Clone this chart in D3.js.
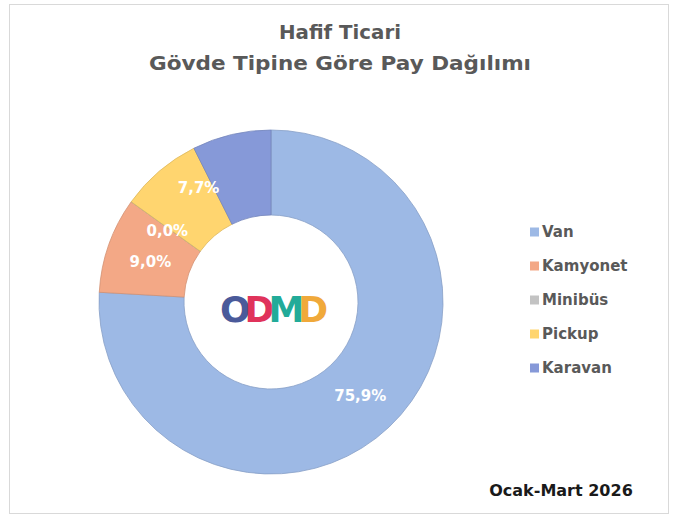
<!DOCTYPE html>
<html>
<head>
<meta charset="utf-8">
<script src="https://cdn.jsdelivr.net/npm/d3@7"></script>
<style>
  body { margin: 0; background: #fff; }
  text { font-family: "DejaVu Sans", sans-serif; }
</style>
</head>
<body>
<div id="chart"></div>
<script>
// Data
const categories = ["Van", "Kamyonet", "Minibüs", "Pickup", "Karavan"];
const shares = [75.9, 9.0, 0.0, 7.7, 7.4];
const labels = ["75,9%", "9,0%", "0,0%", "7,7%", null];  // Karavan label is not shown
const colors = ["#9db9e5", "#f3a886", "#c3c3c3", "#ffd56f", "#8699d8"];
const titleLines = ["Hafif Ticari", "Gövde Tipine Göre Pay Dağılımı"];
const period = "Ocak-Mart 2026";

const width = 678, height = 529;
const cx = 271, cy = 302;
const outerR = 172, innerR = 87;

const svg = d3.select("#chart").append("svg")
  .attr("width", width)
  .attr("height", height);

// chart frame
svg.append("rect")
  .attr("x", 9.5).attr("y", 4.5)
  .attr("width", 659).attr("height", 509)
  .attr("fill", "none")
  .attr("stroke", "#d9d9d9");

// title
svg.append("text")
  .attr("text-anchor", "middle")
  .attr("fill", "#595959")
  .attr("font-weight", "bold")
  .attr("font-size", 20)
  .selectAll("tspan")
  .data(titleLines)
  .enter().append("tspan")
  .attr("x", 340)
  .attr("y", (d, i) => 39 + i * 31)
  .attr("textLength", (d, i) => i === 0 ? 122 : 382)
  .attr("lengthAdjust", "spacingAndGlyphs")
  .text(d => d);

// donut
const pie = d3.pie().sort(null).value(d => d)(shares);
const arc = d3.arc().innerRadius(innerR).outerRadius(outerR);
const labelArc = d3.arc().innerRadius(130).outerRadius(130);

const g = svg.append("g").attr("transform", `translate(${cx},${cy})`);

g.selectAll("path")
  .data(pie)
  .enter().append("path")
  .attr("d", arc)
  .attr("fill", (d, i) => colors[i])
  .attr("stroke", (d, i) => d3.color(colors[i]).darker(0.4))
  .attr("stroke-width", 0.8);

// data labels (Excel nudges the small ones apart)
const nudge = [[0, 0], [2, 3], [2, 5], [12, -15], [0, 0]];
g.selectAll("text.lbl")
  .data(pie)
  .enter().filter((d, i) => labels[i] !== null)
  .append("text")
  .attr("class", "lbl")
  .attr("x", d => labelArc.centroid(d)[0] + nudge[d.index][0])
  .attr("y", d => labelArc.centroid(d)[1] + nudge[d.index][1])
  .attr("text-anchor", "middle")
  .attr("dominant-baseline", "central")
  .attr("fill", "#fff")
  .attr("font-weight", "bold")
  .attr("font-size", 15)
  .text(d => labels[d.index]);

// ODMD logo in the hole
const logoLetters = ["O", "D", "M", "D"];
const logoColors = ["#4a5a9a", "#e0335b", "#22ab99", "#f0a93a"];
const logo = svg.append("text")
  .attr("x", cx).attr("y", 309)
  .attr("text-anchor", "middle")
  .attr("dominant-baseline", "central")
  .attr("font-family", "DejaVu Sans")
  .attr("font-weight", "bold")
  .attr("font-size", 36)
  .attr("letter-spacing", -6);
logo.selectAll("tspan")
  .data(logoLetters)
  .enter().append("tspan")
  .attr("fill", (d, i) => logoColors[i])
  .text(d => d);

// legend
const legend = svg.append("g").attr("transform", "translate(530,232)");
const item = legend.selectAll("g")
  .data(categories)
  .enter().append("g")
  .attr("transform", (d, i) => `translate(0,${i * 34})`);
item.append("rect")
  .attr("x", 0).attr("y", -4.5)
  .attr("width", 9).attr("height", 9)
  .attr("fill", (d, i) => colors[i]);
item.append("text")
  .attr("x", 12)
  .attr("dominant-baseline", "central")
  .attr("fill", "#595959")
  .attr("font-weight", "bold")
  .attr("font-size", 15)
  .text(d => d);

// period note
svg.append("text")
  .attr("x", 561).attr("y", 496)
  .attr("text-anchor", "middle")
  .attr("font-family", "'Open Sans', sans-serif")
  .attr("font-weight", "bold")
  .attr("font-size", 16)
  .attr("fill", "#1a1a1a")
  .text(period);
</script>
</body>
</html>
